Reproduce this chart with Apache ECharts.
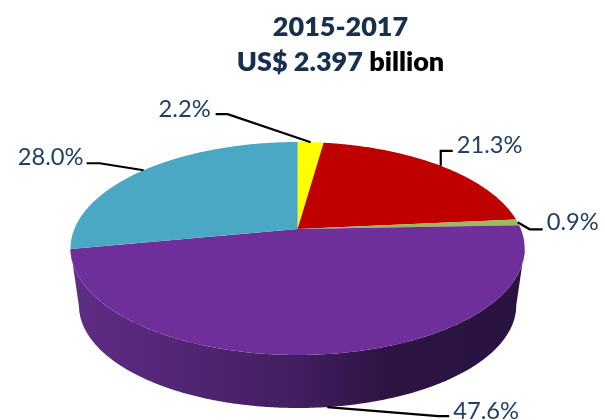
<!DOCTYPE html>
<html><head><meta charset="utf-8">
<style>html,body{margin:0;padding:0;background:#fff}#c{width:605px;height:420px}</style>
<script src="https://cdn.jsdelivr.net/npm/echarts@6/dist/echarts.min.js"></script>
</head><body><div id="c"></div>
<script>
// Data (clockwise from 12 o'clock)
const values = [2.2, 21.3, 0.9, 47.6, 28.0];
const labels = ["2.2%", "21.3%", "0.9%", "47.6%", "28.0%"];
const colors = ["#FFFF00", "#BE0000", "#9BBB59", "#6F2F9B", "#4BA8C4"];
const titleLine1 = "2015-2017";
const titleLine2 = "US$ 2.397 ";
const titleLine3 = "billion";

// Perspective pie geometry
const FONT = "Lato, Carlito, 'Open Sans', sans-serif";
const cx = 297.6, topY = 229, botY = 286.7, A = 223.2, B = 102.9, K = -0.183, botScale = 0.963;
const visFrom = 100.5, visTo = 259.5;
function rim(deg, bottom) {
  const t = deg * Math.PI / 180, u = Math.sin(t), v = -Math.cos(t), w = 1 + K * v;
  const s = bottom ? botScale : 1;
  return [cx + s * A * u / w, (bottom ? botY : topY) + s * B * v / w];
}
function arc(from, to, bottom) {
  const pts = [], n = Math.max(2, Math.ceil(Math.abs(to - from) * 2));
  for (let i = 0; i <= n; i++) pts.push(rim(from + (to - from) * i / n, bottom));
  return pts;
}
// Leader elbows: offset of elbow and of the label-side end, relative to the rim anchor
const leaders = [
  { elbow: [-83, -28], end: [-95, -28], text: [-100, -33], align: "right" },
  { elbow: [0, -15], end: [12, -15], text: [16, -20.5], align: "left" },
  { elbow: [12, 7], end: [25, 7], text: [29, 0.5], align: "left" },
  { elbow: [111, 9], end: [122, 9], text: [126, 4], align: "left" },
  { elbow: [-44, -7], end: [-57, -7], text: [-60, -13], align: "right" }
];
let running = 0;
const rows = values.map(v => { const r = [v, running]; running += v; return r; });

const wallGradient = new echarts.graphic.LinearGradient(0, 0, 1, 0, [
  { offset: 0, color: "#5F2D86" },
  { offset: 0.5, color: "#421E60" },
  { offset: 0.7, color: "#2D1443" },
  { offset: 1, color: "#2A1340" }
]);

const chart = echarts.init(document.getElementById("c"), null, { renderer: "canvas" });
chart.setOption({
  animation: false,
  title: {
    left: 340.5, top: 10, padding: 0, textAlign: "center",
    text: "{a|" + titleLine1 + "}\n{a|" + titleLine2 + "}{b|" + titleLine3 + "}",
    textStyle: {
      rich: {
        a: { fontFamily: FONT, fontWeight: 800, fontSize: 27, lineHeight: 35, color: "#17304F" },
        b: { fontFamily: FONT, fontWeight: 800, fontSize: 27, lineHeight: 35, color: "#000000" }
      }
    }
  },
  series: [{
    type: "custom",
    coordinateSystem: "none",
    silent: true,
    data: rows,
    renderItem(params, api) {
      const i = params.dataIndex;
      const val = api.value(0), start = api.value(1);
      const a0 = start * 3.6, a1 = (start + val) * 3.6, mid = (a0 + a1) / 2;
      const children = [];
      const f = Math.max(a0, visFrom), t = Math.min(a1, visTo);
      if (t > f) {
        const pts = arc(f, t, false).concat(arc(t, f, true));
        children.push({ type: "polygon", z2: 1, shape: { points: pts }, style: { fill: wallGradient } });
      }
      children.push({
        type: "polygon", z2: 2,
        shape: { points: [[cx, topY]].concat(arc(a0, a1, false)) },
        style: { fill: colors[i] }
      });
      const front = mid > visFrom && mid < visTo;
      const anchor = rim(mid, front);
      const L = leaders[i];
      const p = o => [anchor[0] + o[0], anchor[1] + o[1]];
      children.push({
        type: "polyline", z2: 3,
        shape: { points: [anchor, p(L.elbow), p(L.end)] },
        style: { stroke: "#000", lineWidth: 2.2, fill: null }
      });
      const tp = p(L.text);
      children.push({
        type: "text", z2: 4, x: tp[0], y: tp[1],
        style: { text: labels[i], fontFamily: FONT, fontSize: 23.7, fill: "#1F3F66",
                 align: L.align, verticalAlign: "middle" }
      });
      return { type: "group", children };
    }
  }]
});
</script></body></html>
